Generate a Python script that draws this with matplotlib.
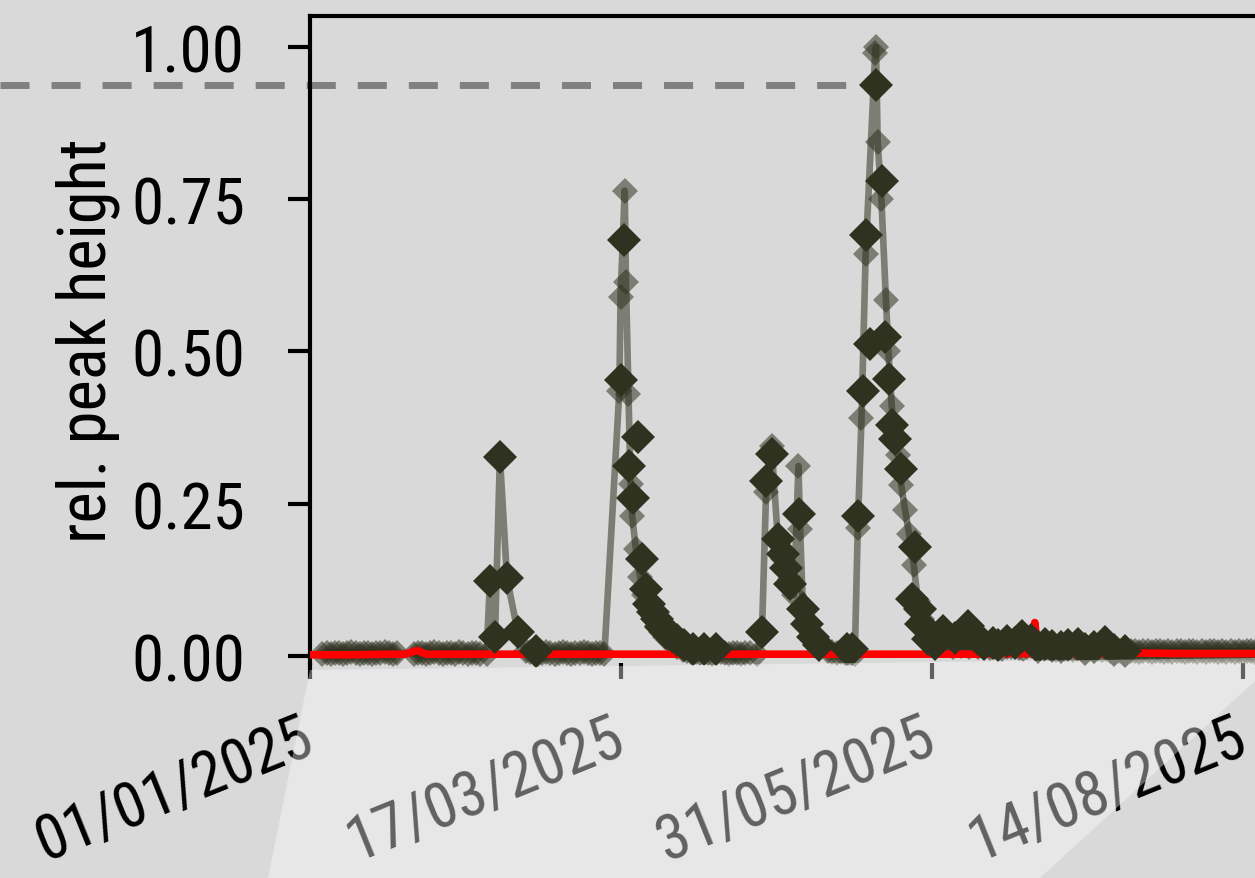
import matplotlib
matplotlib.use("Agg")
import matplotlib.pyplot as plt
from matplotlib import font_manager as fm
from matplotlib.patches import Polygon
from matplotlib.transforms import ScaledTranslation
import numpy as np
import pandas as pd


def narrow_font():
    # prefer an Arial-Narrow-like face; fall back to any condensed sans
    wanted = ['Liberation Sans Narrow', 'Arial Narrow', 'Roboto Condensed',
              'Open Sans Condensed', 'Noto Sans Condensed', 'DejaVu Sans Condensed']
    entries = [f for f in fm.fontManager.ttflist
               if f.style == 'normal' and f.weight in (400, 'normal', 'regular')]
    for w in wanted:
        for f in entries:
            if f.name == w or w.replace(' ', '') in f.fname.replace('-', ''):
                return f.fname, f.name
    for f in entries:
        if f.stretch in ('condensed', 'semi-condensed', 'extra-condensed'):
            return f.fname, f.name
    return None, None


fname, fam = narrow_font()
if fname is not None:
    fm.fontManager.addfont(fname)
    plt.rcParams['font.family'] = [fam, 'Liberation Sans', 'DejaVu Sans']
    plt.rcParams['font.stretch'] = 'condensed'
else:
    plt.rcParams['font.family'] = ['Liberation Sans', 'DejaVu Sans']

START = pd.Timestamp('2025-01-01')

# replicate series (thin line + light markers), days since 01/01/2025
rep_days = [3, 4, 5, 6, 7, 8, 9, 10, 11, 12, 13, 14, 15, 16, 17, 18, 19, 20, 21,
            25, 26, 27, 28, 29, 30, 31, 32, 33, 34, 35, 36, 37, 38, 39, 40, 41, 42.6,
            43.4, 44.6, 45.8, 47.5, 50.2, 52, 53, 54, 55, 56, 57, 58, 59, 60, 61, 62,
            63, 64, 65, 66, 67, 68, 69, 70, 71.0,
            74.6, 74.9, 75.9, 76.2, 76.8, 77.3, 77.7, 78.6, 79.6, 80.6, 81.6, 82.6,
            83.6, 84.6, 85.6, 86.6, 87.6, 88.6, 90, 91, 92, 93, 94, 95, 96, 97, 98,
            99, 100, 101, 102, 103, 104, 105, 106, 107.8,
            109.0, 110.0, 111.3, 112.9, 114.1, 115.7, 116.7, 117.8, 118.2, 118.9,
            119.8, 121, 123, 125, 126, 127, 128, 129, 130, 131.4,
            132.1, 133.0, 134.0, 136.3, 136.5, 136.9, 137.8, 138.9, 139.5, 140.3,
            141.0, 141.8, 142.6, 143.5, 144.5, 145.6, 146.6, 147.5, 148.5, 150, 151.5,
            153, 154, 155, 156, 157, 158, 159, 160, 161, 162, 163, 164, 165, 166, 167,
            168, 169, 170, 171, 172, 173, 174, 175, 176, 177, 178, 179, 180, 181, 182,
            183, 184, 185, 186, 187, 188, 189, 190, 191, 192, 193, 194, 195, 196, 197,
            198, 199, 200, 201, 202, 203, 204, 205, 206, 207, 208, 209, 210, 211, 212,
            213, 214, 215, 216, 217, 218, 219, 220, 221, 222, 223, 224, 225, 226, 227,
            228, 229, 230, 231, 232]
rep_vals = [0.004, 0.005, 0.004, 0.005, 0.005, 0.004, 0.005, 0.006, 0.005, 0.004,
            0.005, 0.005, 0.004, 0.005, 0.005, 0.006, 0.005, 0.004, 0.005,
            0.004, 0.005, 0.005, 0.004, 0.005, 0.006, 0.005, 0.004, 0.005, 0.005,
            0.004, 0.006, 0.005, 0.004, 0.005, 0.005, 0.004, 0.004,
            0.123, 0.031, 0.327, 0.128, 0.036, 0.008, 0.006, 0.005, 0.004, 0.005,
            0.006, 0.005, 0.004, 0.005, 0.006, 0.005, 0.004, 0.005, 0.005, 0.006,
            0.005, 0.004, 0.005, 0.005, 0.004,
            0.435, 0.59, 0.764, 0.614, 0.43, 0.282, 0.23, 0.175, 0.13, 0.10, 0.08,
            0.065, 0.05, 0.04, 0.032, 0.026, 0.02, 0.015, 0.01, 0.008, 0.007, 0.006,
            0.005, 0.006, 0.005, 0.004, 0.005, 0.006, 0.005, 0.004, 0.005, 0.005,
            0.004, 0.005, 0.005, 0.004,
            0.039, 0.27, 0.345, 0.185, 0.16, 0.127, 0.10, 0.312, 0.209, 0.072,
            0.05, 0.028, 0.015, 0.008, 0.006, 0.005, 0.006, 0.005, 0.005, 0.004,
            0.21, 0.39, 0.66, 0.99, 1.0, 0.844, 0.75, 0.585, 0.50, 0.41,
            0.36, 0.33, 0.28, 0.24, 0.20, 0.15, 0.09, 0.06, 0.04, 0.025, 0.02,
            0.018, 0.022, 0.015, 0.02, 0.017, 0.021, 0.015, 0.018, 0.014, 0.016,
            0.02, 0.013, 0.015, 0.017, 0.012, 0.015, 0.014, 0.018, 0.013, 0.012,
            0.015, 0.016, 0.012, 0.014, 0.011, 0.013, 0.012, 0.01, 0.012, 0.011,
            0.013, 0.01, 0.011, 0.012, 0.01, 0.011, 0.009, 0.012, 0.01, 0.011,
            0.009, 0.01, 0.008, 0.009, 0.008, 0.009, 0.008, 0.007, 0.009, 0.008,
            0.007, 0.008, 0.009, 0.007, 0.008, 0.007, 0.008, 0.009, 0.007, 0.008,
            0.008, 0.007, 0.008, 0.007, 0.009, 0.008, 0.007, 0.008, 0.007, 0.008,
            0.007, 0.008, 0.007, 0.008, 0.008, 0.007, 0.009, 0.008, 0.007, 0.008]

# main series (large markers)
main_days = [43.4, 44.6, 45.8, 47.4, 50.2, 54.6,
             75.0, 75.8, 76.9, 77.9, 79.1, 80.1, 81.0, 81.8, 82.6, 83.6, 84.6, 85.8,
             87.2, 88.6, 90.2, 92.4, 95.0, 97.8,
             109.0, 110.0, 111.4, 112.9, 114.1, 114.8, 115.8, 117.9, 118.9, 119.8,
             121.3, 122.8, 129.4, 130.8,
             132.1, 133.4, 134.1, 135.0, 136.6, 137.9, 138.7, 139.6, 140.3, 141.1,
             142.5, 145.2, 145.9, 147.1, 147.3, 149.0, 150.7, 152.6, 155.5, 158.7,
             161.0, 162.5, 164.7, 166.0, 168.1, 170.0, 171.7, 174.0, 175.5, 177.2,
             179.0, 181.0, 182.8, 185.2, 187.0, 189.0, 191.7, 194.0, 196.5]
main_vals = [0.123, 0.031, 0.327, 0.128, 0.04, 0.008,
             0.453, 0.683, 0.312, 0.26, 0.36, 0.16, 0.11, 0.085, 0.072, 0.06, 0.048,
             0.04, 0.033, 0.026, 0.018, 0.012, 0.011, 0.012,
             0.039, 0.287, 0.332, 0.192, 0.167, 0.145, 0.118, 0.233, 0.077, 0.052,
             0.031, 0.018, 0.011, 0.011,
             0.23, 0.435, 0.691, 0.512, 0.9376, 0.78, 0.524, 0.455, 0.38, 0.356,
             0.307, 0.094, 0.179, 0.077, 0.052, 0.028, 0.02, 0.041, 0.03, 0.049,
             0.028, 0.02, 0.021, 0.018, 0.025, 0.022, 0.033, 0.026, 0.015, 0.02,
             0.016, 0.014, 0.018, 0.02, 0.012, 0.014, 0.023, 0.01, 0.008]

# reference series (red)
ref_days = [0, 10, 20, 23, 25.8, 28, 40, 60, 80, 100, 120, 140, 160, 170, 174,
            174.8, 175.6, 185, 193, 195.5, 198, 210, 240]
ref_vals = [0.002, 0.002, 0.003, 0.003, 0.009, 0.003, 0.003, 0.003, 0.003, 0.003,
            0.003, 0.003, 0.003, 0.004, 0.004, 0.055, 0.005, 0.004, 0.004, 0.018,
            0.005, 0.004, 0.004]

tick_dates = ['2025-01-01', '2025-03-17', '2025-05-31', '2025-08-14']
y_ticks = [0.0, 0.25, 0.5, 0.75, 1.0]


def to_dates(days):
    return START + pd.to_timedelta(np.array(days, dtype=float), unit='D')


fig = plt.figure(figsize=(12.55, 8.79), dpi=100, facecolor='#d9d9d9')
ax = fig.add_axes([310 / 1255, 1 - 664 / 879, 1132 / 1255, 647 / 879])
ax.set_facecolor('#d9d9d9')

dark = '#303220'
ax.plot(to_dates(rep_days), rep_vals, color=dark, alpha=0.55, lw=4.8,
        marker='D', ms=13.5, mew=0, zorder=2, clip_on=False)
ax.plot(to_dates(ref_days), ref_vals, color='red', lw=5.5, zorder=3,
        solid_capstyle='butt', solid_joinstyle='round', clip_on=False)
ax.plot(to_dates(main_days), main_vals, ls='none', marker='D', ms=17.5,
        mew=0, color=dark, zorder=4, clip_on=False)

# marker level of the highest main value, carried out to the left margin
peak_i = int(np.argmax(main_vals))
ax.plot(to_dates([-74.75, main_days[peak_i]]), [main_vals[peak_i]] * 2,
        color='#808080', lw=5, ls=(0, (4.18, 3.17)), zorder=1.5, clip_on=False)

ax.set_xlim(START, START + pd.Timedelta(days=273))
ax.set_ylim(-0.0115, 1.0509)

ax.set_yticks(y_ticks)
ax.set_yticklabels([f'{v:.2f}' for v in y_ticks])
ticks = pd.to_datetime(tick_dates)
ax.set_xticks(ticks)
ax.set_xticklabels([t.strftime('%d/%m/%Y') for t in ticks], rotation=22, ha='right')

ax.tick_params(axis='y', length=15.8, width=3, pad=31, labelsize=47)
ax.tick_params(axis='x', length=11.5, width=3, pad=20, labelsize=45)

for side in ['right', 'bottom']:
    ax.spines[side].set_visible(False)
for side in ['left', 'top']:
    ax.spines[side].set_linewidth(3)

ax.set_ylabel('rel. peak height', fontsize=48)
ax.yaxis.set_label_coords(-0.168, 0.5)

# nudge the slanted date labels to the right of their ticks
shift = ScaledTranslation(0.12, 0, fig.dpi_scale_trans)
for lab in ax.get_xticklabels():
    lab.set_transform(lab.get_transform() + shift)

# light band over the lower part of the figure
W, H = 1255, 879
pts = [(310, 671), (1255, 659), (1255, 682), (1040, 879), (268, 879)]
band = Polygon([(x / W, 1 - y / H) for x, y in pts], closed=True,
               transform=fig.transFigure, facecolor='white', alpha=0.38,
               edgecolor='none', zorder=10)
fig.add_artist(band)

fig.savefig('out.png', dpi=100, facecolor=fig.get_facecolor())
